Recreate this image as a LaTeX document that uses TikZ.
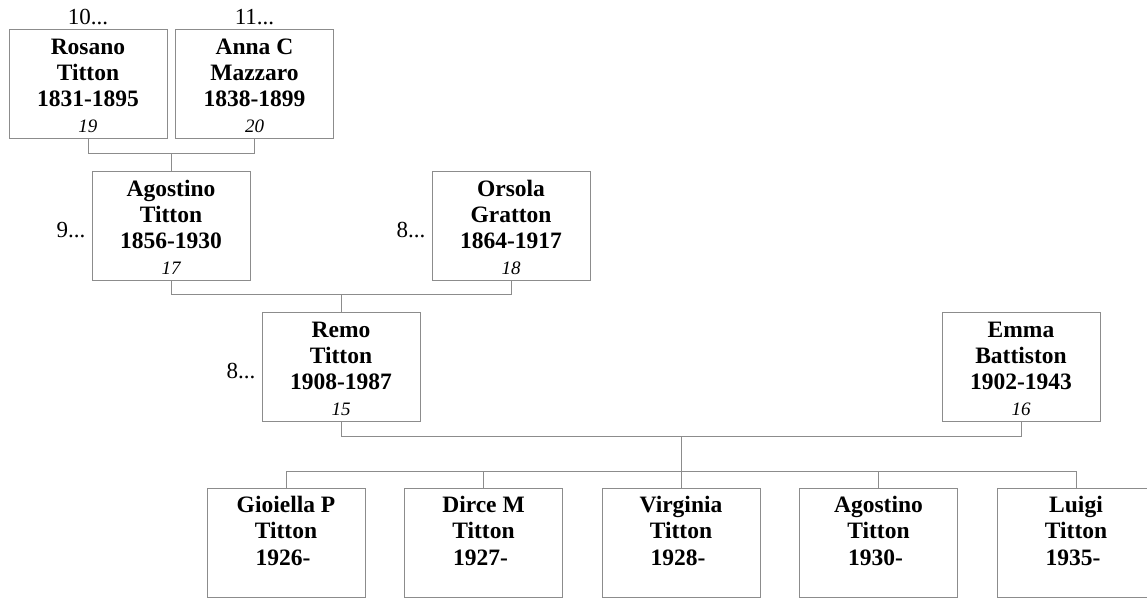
\documentclass[tikz,border=0pt]{standalone}
\usepackage{fontspec}
\setmainfont{Liberation Serif}
\definecolor{linegray}{RGB}{140,140,140}
\newcommand\pcard[4]{\begin{minipage}[t][109pt][t]{158pt}\centering\fontsize{23.5}{26}\selectfont\bfseries\rule{0pt}{25.3pt}#1\\#2\\#3\\{\fontsize{19}{26}\selectfont\mdseries\itshape #4}\end{minipage}}
\newcommand\kcard[3]{\begin{minipage}[t][109pt][t]{158pt}\centering\fontsize{23.5}{26.5}\selectfont\bfseries\rule{0pt}{24pt}#1\\#2\\#3\kern.25em\end{minipage}}
\tikzset{
  card/.style={draw=linegray, line width=1pt, inner sep=0pt, anchor=north, text=black},
  lbl/.style={inner sep=0pt, font=\fontsize{23}{26}\selectfont, text=black},
  conn/.style={draw=linegray, line width=1pt}
}
\begin{document}
\begin{tikzpicture}[x=1pt,y=-1pt]
\useasboundingbox (0,0) rectangle (1147,599);
\clip (0,0) rectangle (1147,599);
% generation 1
\node[card] (rosano) at (88,29) {\pcard{Rosano}{Titton}{1831-1895}{19}};
\node[card] (anna) at (254.5,29) {\pcard{Anna C}{Mazzaro}{1838-1899}{20}};
% generation 2
\node[card] (agostino) at (171,170.5) {\pcard{Agostino}{Titton}{1856-1930}{17}};
\node[card] (orsola) at (511,170.5) {\pcard{Orsola}{Gratton}{1864-1917}{18}};
% generation 3
\node[card] (remo) at (341,311.5) {\pcard{Remo}{Titton}{1908-1987}{15}};
\node[card] (emma) at (1021,311.5) {\pcard{Emma}{Battiston}{1902-1943}{16}};
% children
\node[card] (c1) at (286,487.7) {\kcard{Gioiella P}{Titton}{1926-}};
\node[card] (c2) at (483.5,487.7) {\kcard{Dirce M}{Titton}{1927-}};
\node[card] (c3) at (681,487.7) {\kcard{Virginia}{Titton}{1928-}};
\node[card] (c4) at (878.5,487.7) {\kcard{Agostino}{Titton}{1930-}};
\node[card] (c5) at (1076,487.7) {\kcard{Luigi}{Titton}{1935-}};
% ancestor-number labels
\node[lbl, anchor=base] (l10) at ([yshift=4pt]rosano.north) {10...};
\node[lbl, anchor=base] (l11) at ([yshift=4pt]anna.north) {11...};
\node[lbl, anchor=base east] (l9) at ([xshift=-6pt,yshift=-66.5pt]agostino.north west) {9...};
\node[lbl, anchor=base east] (l8a) at ([xshift=-6pt,yshift=-66.5pt]orsola.north west) {8...};
\node[lbl, anchor=base east] (l8b) at ([xshift=-6pt,yshift=-66.5pt]remo.north west) {8...};
% junctions
\coordinate (j1) at (171,153.7);
\coordinate (j2) at (341,294.5);
\coordinate (j3) at (681,436.5);
\coordinate (j4) at (681,471.7);
% connectors
\draw[conn] (rosano.south) |- (j1);
\draw[conn] (anna.south) |- (j1);
\draw[conn] (j1) -- (agostino.north);
\draw[conn] (agostino.south) |- (j2);
\draw[conn] (orsola.south) |- (j2);
\draw[conn] (j2) -- (remo.north);
\draw[conn] (remo.south) |- (j3);
\draw[conn] (emma.south) |- (j3);
\draw[conn] (j3) -- (j4);
\draw[conn] (c1.north) |- (j4);
\draw[conn] (c2.north) |- (j4);
\draw[conn] (c3.north) -- (j4);
\draw[conn] (c4.north) |- (j4);
\draw[conn] (c5.north) |- (j4);
\end{tikzpicture}
\end{document}
